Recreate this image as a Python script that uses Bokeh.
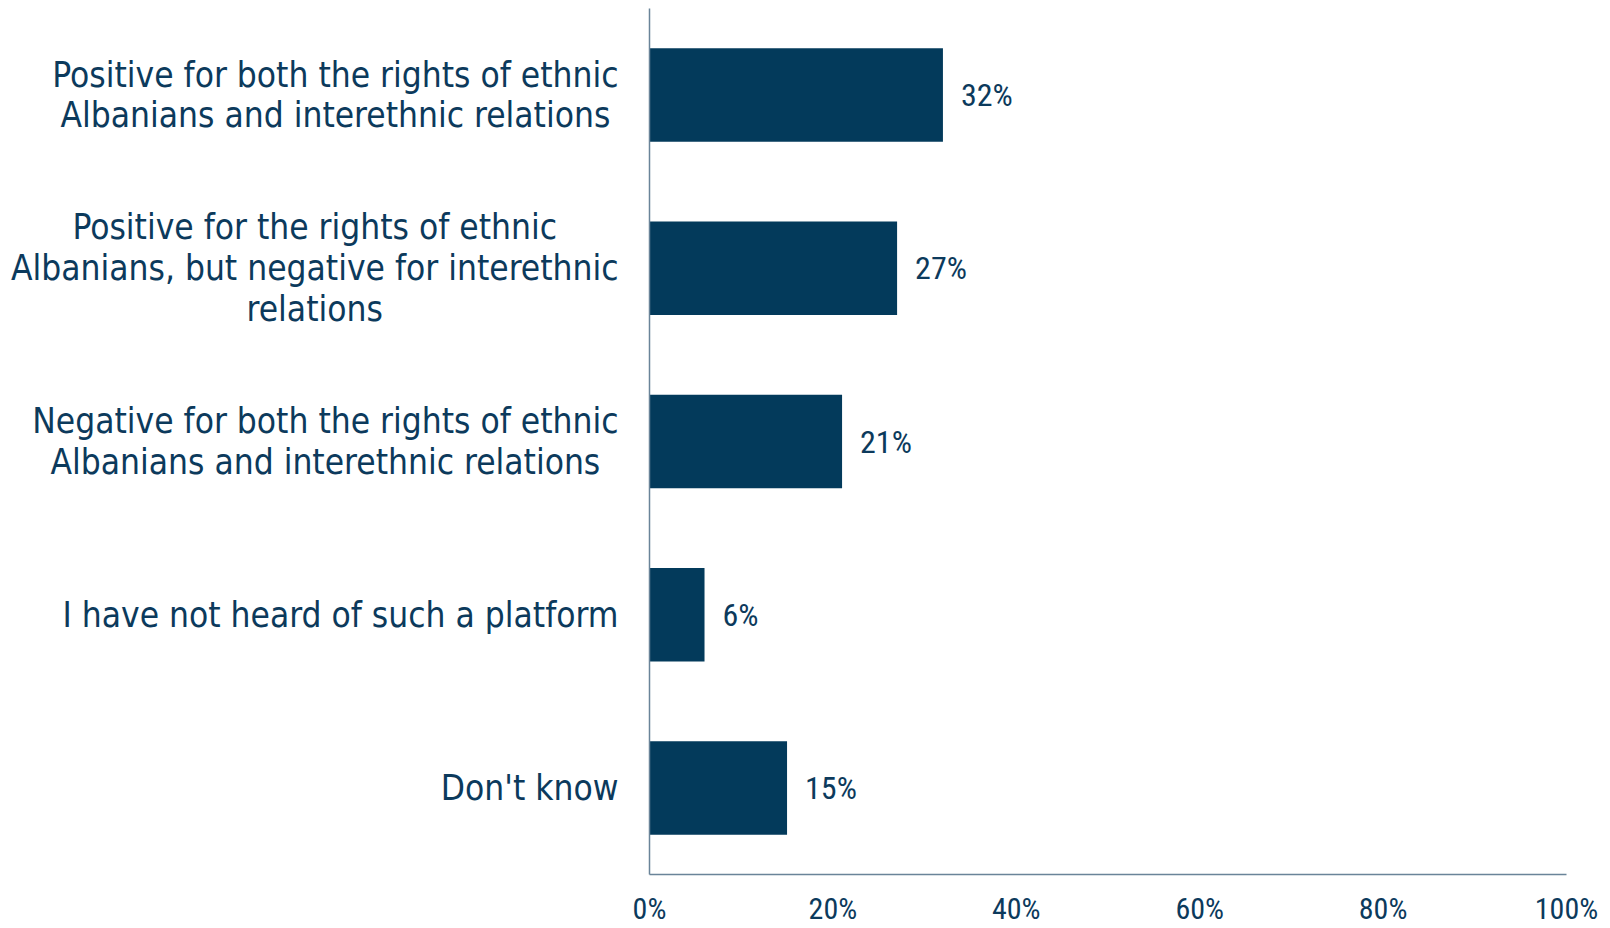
from bokeh.plotting import figure
from bokeh.layouts import row
from bokeh.models import Range1d, FixedTicker, FactorRange, ColumnDataSource
from bokeh.core.properties import value
from bokeh.embed import file_html
from bokeh.resources import INLINE

categories = [
    "Positive for both the rights of ethnic\nAlbanians and interethnic relations",
    "Positive for the rights of ethnic\nAlbanians, but negative for interethnic\nrelations",
    "Negative for both the rights of ethnic\nAlbanians and interethnic relations",
    "I have not heard of such a platform",
    "Don't know",
]
values = [32, 27, 21, 6, 15]
value_labels = ["32%", "27%", "21%", "6%", "15%"]
x_ticks = [0, 20, 40, 60, 80, 100]
x_tick_labels = ["0%", "20%", "40%", "60%", "80%", "100%"]

BAR = "#033A5B"
TXT = "#0C3A5C"
AXIS = "#6A8499"
LABEL_FONT = "DejaVu Sans Condensed"
NUM_FONT = "'Liberation Sans Narrow', 'Roboto Condensed', 'DejaVu Sans Condensed'"

TOP, BOTTOM = 8, 54
y_range = FactorRange(factors=list(reversed(categories)), range_padding=0)

# left panel: category labels
left = figure(width=624, height=928, output_backend="svg", toolbar_location=None,
              x_range=Range1d(0, 1), y_range=y_range,
              min_border_left=0, min_border_right=0,
              min_border_top=TOP, min_border_bottom=BOTTOM)
left.xaxis.visible = False
left.yaxis.visible = False
left.xgrid.visible = False
left.ygrid.visible = False
left.outline_line_color = None
lsrc = ColumnDataSource(dict(y=categories, x=[1] * len(categories), t=categories))
left.text(x="x", y="y", text="t", source=lsrc, x_offset=-6,
          anchor="center_right", text_align="center", text_baseline="middle",
          text_font=value(LABEL_FONT), text_font_size="35px", text_color=TXT,
          text_line_height=1.02)

# right panel: bars
p = figure(width=986, height=928, output_backend="svg", toolbar_location=None,
           x_range=Range1d(0, 100), y_range=y_range,
           min_border_left=25, min_border_right=44,
           min_border_top=TOP, min_border_bottom=BOTTOM)
p.outline_line_color = None
p.xgrid.visible = False
p.ygrid.visible = False

src = ColumnDataSource(dict(y=categories, v=values, lab=value_labels))
p.hbar(y="y", right="v", left=0, height=0.54, source=src, fill_color=BAR, line_color=None)
p.text(x="v", y="y", text="lab", source=src, x_offset=18, text_baseline="middle",
       text_align="left", text_color=TXT, text_font=value(NUM_FONT),
       text_font_size="32px")

xa = p.xaxis[0]
xa.ticker = FixedTicker(ticks=x_ticks)
xa.major_label_overrides = {t: l for t, l in zip(x_ticks, x_tick_labels)}
xa.major_tick_line_color = None
xa.major_tick_out = 0
xa.major_tick_in = 0
xa.minor_tick_line_color = None
xa.axis_line_color = AXIS
xa.axis_line_width = 1.5
xa.major_label_text_font = NUM_FONT
xa.major_label_text_font_size = "30px"
xa.major_label_text_color = TXT
xa.major_label_standoff = 16

ya = p.yaxis[0]
ya.ticker = FixedTicker(ticks=[])
ya.major_tick_line_color = None
ya.major_tick_out = 0
ya.major_tick_in = 0
ya.minor_tick_line_color = None
ya.major_label_standoff = 0
ya.axis_line_color = AXIS
ya.axis_line_width = 1.5

layout = row(left, p, spacing=0)
open("out.html", "w").write(file_html(layout, INLINE))
